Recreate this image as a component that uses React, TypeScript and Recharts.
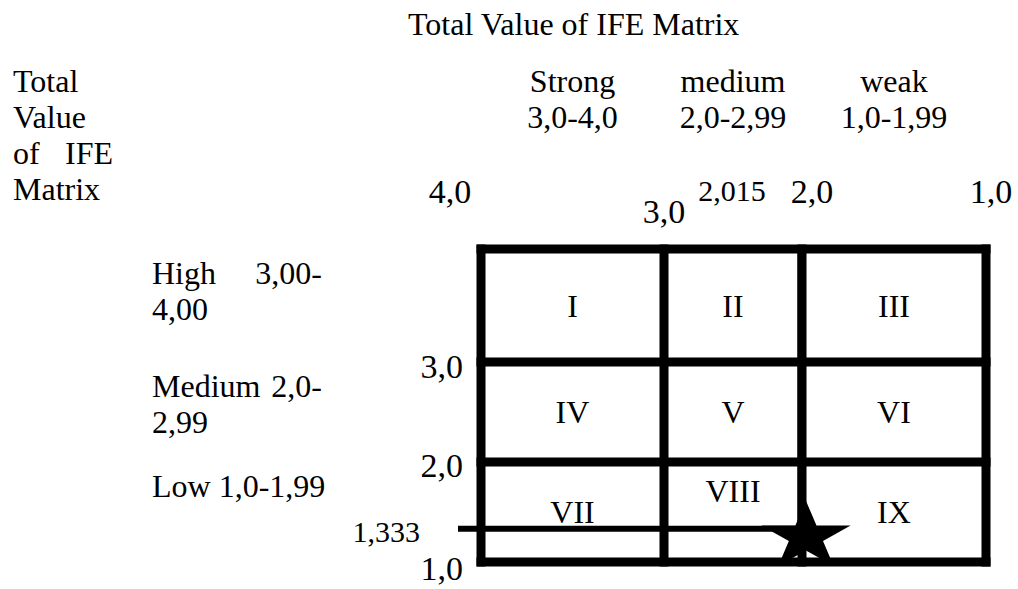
import React from "react";
import { ScatterChart, XAxis, YAxis, Scatter, ReferenceLine } from "recharts";

// IFE x EFE internal/external matrix
const xBounds = [4, 3, 2, 1];
const yBounds = [4, 3, 2, 1];
const topTicks = [4, 3, 2.015, 2, 1];
const leftTicks = [3, 2, 1.333, 1];
const colNames = ["Strong", "medium", "weak"];
const colRanges = ["3,0-4,0", "2,0-2,99", "1,0-1,99"];
const rowLines = [["High 3,00-", "4,00"], ["Medium 2,0-", "2,99"], ["Low 1,0-1,99"]];
const cellNames = ["I", "II", "III", "IV", "V", "VI", "VII", "VIII", "IX"];
const position = [{ x: 2.015, y: 1.333 }];

const SERIF = "'Liberation Serif', 'Times New Roman', serif";
const W = 1018;
const H = 589;
const FS = 32;

// the hand drawn matrix has unequal cells, so the axes use a piecewise scale
const colShare = [183, 138, 184];
const rowShare = [100, 100, 113]; // from bottom (1) up to 4

function cumFracs(parts: number[]) {
  const total = parts.reduce((a, b) => a + b, 0);
  const out = [0];
  let acc = 0;
  parts.forEach((p) => {
    acc += p;
    out.push(acc / total);
  });
  return out;
}

function piecewise(stops: number[], fracs: number[]): any {
  let dom: number[] = [Math.min(...stops), Math.max(...stops)];
  let rng: number[] = [0, 1];
  const toFrac = (v: number) => {
    for (let i = 0; i < stops.length - 1; i++) {
      const a = stops[i];
      const b = stops[i + 1];
      if ((v - a) * (v - b) <= 0) return fracs[i] + ((v - a) / (b - a)) * (fracs[i + 1] - fracs[i]);
    }
    const i = Math.abs(v - stops[0]) < Math.abs(v - stops[stops.length - 1]) ? 0 : stops.length - 2;
    const a = stops[i];
    const b = stops[i + 1];
    return fracs[i] + ((v - a) / (b - a)) * (fracs[i + 1] - fracs[i]);
  };
  const scale: any = (v: number) => rng[0] + toFrac(Number(v)) * (rng[1] - rng[0]);
  scale.domain = (d?: number[]) => {
    if (d === undefined) return dom;
    dom = d;
    return scale;
  };
  scale.range = (r?: number[]) => {
    if (r === undefined) return rng;
    rng = r;
    return scale;
  };
  scale.copy = () => piecewise(stops, fracs).domain(dom).range(rng);
  scale.ticks = () => stops.slice().sort((a, b) => a - b);
  scale.invert = (px: number) => {
    const f = (px - rng[0]) / (rng[1] - rng[0]);
    for (let i = 0; i < fracs.length - 1; i++) {
      if (f >= fracs[i] && f <= fracs[i + 1]) {
        return stops[i] + ((f - fracs[i]) / (fracs[i + 1] - fracs[i])) * (stops[i + 1] - stops[i]);
      }
    }
    return stops[0];
  };
  return scale;
}

const xScale = piecewise(xBounds, cumFracs(colShare));
const yScale = piecewise([1, 2, 3, 4], cumFracs(rowShare));

const colMids = xBounds.slice(0, 3).map((b, i) => (b + xBounds[i + 1]) / 2);
const rowMids = yBounds.slice(0, 3).map((b, i) => (b + yBounds[i + 1]) / 2);
const cells = rowMids.flatMap((y, r) => colMids.map((x, c) => ({ x, y, name: cellNames[r * 3 + c] })));

const fmt = (v: number) => (Number.isInteger(v) ? v.toFixed(1) : String(v)).replace(".", ",");

// [dx, dy, fontSize]
const topNudge: Record<string, number[]> = {
  "4": [-31, -45, 34],
  "3": [0, -25, 34],
  "2.015": [-68, -47, 30],
  "2": [10, -45, 34],
  "1": [5, -45, 34],
};
const leftNudge: Record<string, number[]> = {
  "3": [-18, 16, 34],
  "2": [-18, 15, 34],
  "1.333": [-61, 13, 30],
  "1": [-18, 18, 34],
};
const rowDy = [-22, -15, -15];

function TopTick(props: any) {
  const { x, y, payload } = props;
  const [dx, dy, size] = topNudge[String(payload.value)] ?? [0, -45, 34];
  return (
    <text x={x + dx} y={y + dy} textAnchor="middle" fontSize={size} fontFamily={SERIF} fill="#000">
      {fmt(payload.value)}
    </text>
  );
}

function LeftTick(props: any) {
  const { x, y, payload } = props;
  const [dx, dy, size] = leftNudge[String(payload.value)] ?? [-18, 15, 34];
  return (
    <text x={x + dx} y={y + dy} textAnchor="end" fontSize={size} fontFamily={SERIF} fill="#000">
      {fmt(payload.value)}
    </text>
  );
}

function ColTick(props: any) {
  const { x, y, index } = props;
  return (
    <g fontSize={FS} fontFamily={SERIF} fill="#000" textAnchor="middle">
      <text x={x} y={y - 157}>{colNames[index]}</text>
      <text x={x} y={y - 121}>{colRanges[index]}</text>
    </g>
  );
}

function RowTick(props: any) {
  const { x, y, index } = props;
  const lines = rowLines[index] ?? [];
  const left = x - 328;
  const right = x - 158;
  return (
    <g fontSize={FS} fontFamily={SERIF} fill="#000">
      {lines.map((line, i) => {
        const ty = y + rowDy[index] + i * 36;
        const words = line.split(" ");
        if (i < lines.length - 1 && words.length > 1) {
          return (
            <g key={i}>
              <text x={left} y={ty}>{words.slice(0, -1).join(" ")}</text>
              <text x={right} y={ty} textAnchor="end">{words[words.length - 1]}</text>
            </g>
          );
        }
        return <text key={i} x={left} y={ty}>{line}</text>;
      })}
    </g>
  );
}

function CellText(props: any) {
  const { cx, cy, payload } = props;
  const dy = payload.name === "VIII" ? -10 : 11;
  return (
    <text x={cx} y={cy + dy} textAnchor="middle" fontSize={FS} fontFamily={SERIF} fill="#000">
      {payload.name}
    </text>
  );
}

function Star(props: any) {
  const { cx, cy } = props;
  const ox = cx + 6;
  const oy = cy + 8;
  const pts: string[] = [];
  for (let k = 0; k < 10; k++) {
    const a = -Math.PI / 2 + (k * Math.PI) / 5;
    const r = k % 2 === 0 ? 1 : 0.382;
    pts.push(`${ox + 47 * r * Math.cos(a)},${oy + 36 * r * Math.sin(a)}`);
  }
  return <polygon points={pts.join(" ")} fill="#000" />;
}

function LeadLine(props: any) {
  const { x1, y1, x2, y2 } = props;
  return <line x1={Math.min(x1, x2) - 23} y1={y1} x2={Math.max(x1, x2)} y2={y2} stroke="#000" strokeWidth={6} />;
}

const axisCommon = {
  type: "number" as const,
  domain: [1, 4],
  allowDataOverflow: true,
  interval: 0 as const,
  axisLine: false,
  tickLine: false,
  tickSize: 0,
  tickMargin: 0,
};

export default function App() {
  return (
    <div style={{ position: "absolute", left: 0, top: 0, width: W, height: H, background: "#fff" }}>
      <svg width={W} height={H} style={{ position: "absolute", left: 0, top: 0 }} fontFamily={SERIF} fontSize={FS} fill="#000">
        <text x={408} y={35}>Total Value of IFE Matrix</text>
        <text x={13} y={92}>Total</text>
        <text x={13} y={128}>Value</text>
        <text x={13} y={164}>of</text>
        <text x={65} y={164}>IFE</text>
        <text x={13} y={200}>Matrix</text>
      </svg>
      <div style={{ position: "absolute", left: 0, top: 0 }}>
        <ScatterChart width={W} height={H} margin={{ top: 247, right: 32, bottom: 27, left: 479 }}>
          <XAxis {...axisCommon} xAxisId="ife" dataKey="x" orientation="top" scale={xScale} ticks={topTicks} height={1} tick={<TopTick />} />
          <XAxis {...axisCommon} xAxisId="cols" orientation="top" scale={xScale} ticks={colMids} height={1} tick={<ColTick />} />
          <YAxis {...axisCommon} yAxisId="efe" dataKey="y" scale={yScale} ticks={leftTicks} width={1} tick={<LeftTick />} />
          <YAxis {...axisCommon} yAxisId="rows" scale={yScale} ticks={rowMids} width={1} tick={<RowTick />} />
          {xBounds.map((b) => (
            <ReferenceLine key={`x${b}`} xAxisId="ife" yAxisId="efe" x={b} stroke="#000" strokeWidth={9} strokeLinecap="square" ifOverflow="visible" />
          ))}
          {yBounds.map((b) => (
            <ReferenceLine key={`y${b}`} xAxisId="ife" yAxisId="efe" y={b} stroke="#000" strokeWidth={9} strokeLinecap="square" ifOverflow="visible" />
          ))}
          <ReferenceLine
            xAxisId="ife"
            yAxisId="efe"
            segment={[{ x: position[0].x, y: 4 }, { x: position[0].x, y: position[0].y }]}
            stroke="#000"
            strokeWidth={5}
            ifOverflow="visible"
          />
          <ReferenceLine
            xAxisId="ife"
            yAxisId="efe"
            segment={[{ x: 4, y: position[0].y }, { x: position[0].x, y: position[0].y }]}
            shape={<LeadLine />}
            ifOverflow="visible"
          />
          <Scatter xAxisId="ife" yAxisId="efe" data={cells} shape={<CellText />} isAnimationActive={false} />
          <Scatter xAxisId="ife" yAxisId="efe" data={position} shape={<Star />} isAnimationActive={false} />
        </ScatterChart>
      </div>
    </div>
  );
}
